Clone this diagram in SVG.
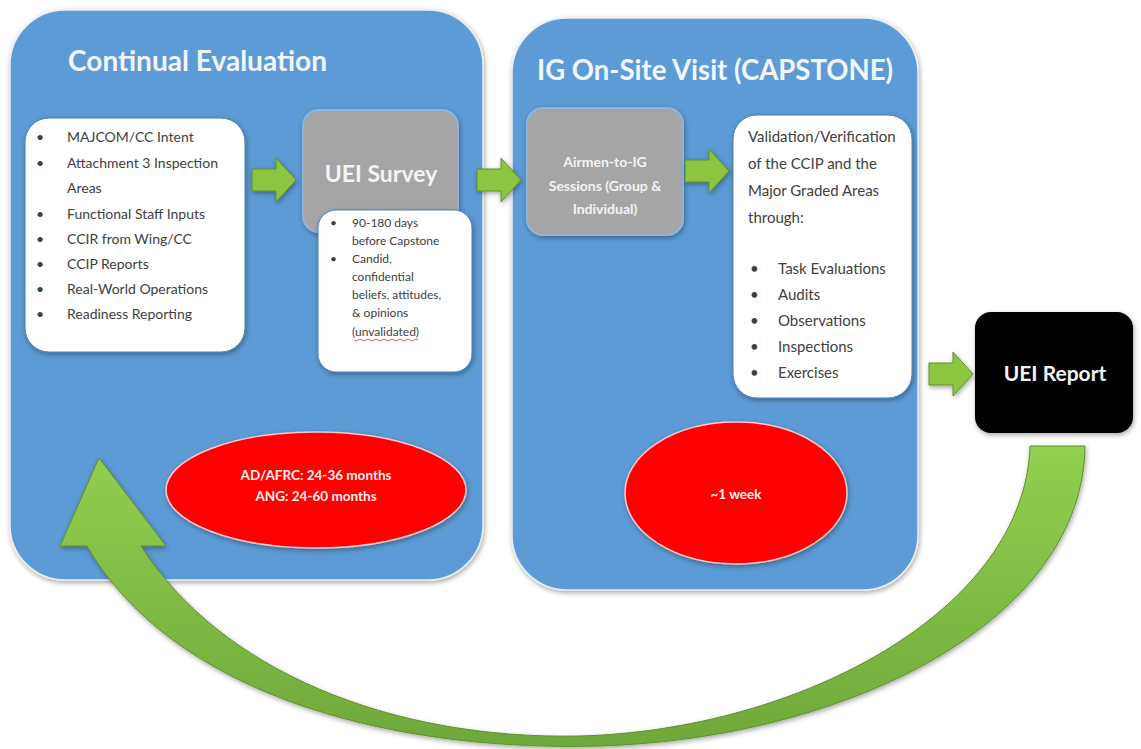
<svg xmlns="http://www.w3.org/2000/svg" width="1141" height="749" viewBox="0 0 1141 749">
<defs>
<filter id="sh" x="-10%" y="-10%" width="120%" height="120%">
<feGaussianBlur in="SourceAlpha" stdDeviation="2.5"/>
<feOffset dx="1" dy="2" result="b"/>
<feFlood flood-color="#000" flood-opacity="0.35"/>
<feComposite in2="b" operator="in"/>
<feMerge><feMergeNode/><feMergeNode in="SourceGraphic"/></feMerge>
</filter>
<linearGradient id="gr" x1="0" y1="0" x2="0" y2="1">
<stop offset="0" stop-color="#92d050"/>
<stop offset="1" stop-color="#6fa83a"/>
</linearGradient>
<path id="ar" d="M0 -11 H24 V-22 L44 0 L24 22 V11 H0 Z"/>
</defs>
<style>
.panel{fill:#5b9bd5;stroke:#e8eef6;stroke-width:1.5}
.white{fill:#ffffff;stroke:#4a7fb5;stroke-width:1}
.gray{fill:#a5a5a5;stroke:#8fb4dc;stroke-width:2}
.title{font-family:Lato,"Open Sans",sans-serif;font-weight:bold;font-size:29px;fill:#f2f7fb}
.lst{font-family:Lato,"Open Sans",sans-serif;font-size:14px;fill:#404040}
.val{font-family:Lato,"Open Sans",sans-serif;font-size:15px;fill:#404040}
.sm{font-family:Lato,"Open Sans",sans-serif;font-size:12px;fill:#404040}
.gt{font-family:Lato,"Open Sans",sans-serif;font-weight:bold;fill:#f4f4f4;text-anchor:middle}
.red{fill:#ff0000;stroke:#f6c9c9;stroke-width:1.5}
.rt{font-family:Lato,"Open Sans",sans-serif;font-weight:bold;font-size:13.5px;fill:#fff0f0;text-anchor:middle}
.garrow{fill:#8cc63f;stroke:#5f8f2c;stroke-width:1}
</style>

<g id="continual-evaluation">
<rect class="panel" x="10" y="10" width="473" height="570" rx="55" filter="url(#sh)"/>
<text class="title" x="68" y="71" textLength="259" lengthAdjust="spacingAndGlyphs">Continual Evaluation</text>
</g>

<g id="inputs-list">
<rect class="white" x="25" y="118" width="220" height="234" rx="24" filter="url(#sh)"/>
<g class="lst">
<text x="36" y="142">•</text><text x="67" y="142">MAJCOM/CC Intent</text>
<text x="36" y="168">•</text><text x="67" y="168">Attachment 3 Inspection</text>
<text x="67" y="193">Areas</text>
<text x="36" y="219">•</text><text x="67" y="219">Functional Staff Inputs</text>
<text x="36" y="244">•</text><text x="67" y="244">CCIR from Wing/CC</text>
<text x="36" y="269">•</text><text x="67" y="269">CCIP Reports</text>
<text x="36" y="294">•</text><text x="67" y="294">Real-World Operations</text>
<text x="36" y="319">•</text><text x="67" y="319">Readiness Reporting</text>
</g>
</g>

<g id="uei-survey">
<rect class="gray" x="303" y="110" width="155" height="122" rx="16" filter="url(#sh)"/>
<text class="gt" x="381" y="182" font-size="23">UEI Survey</text>
</g>

<g id="survey-notes">
<rect class="white" x="318" y="210" width="154" height="162" rx="18" filter="url(#sh)"/>
<g class="sm">
<text x="330" y="227">•</text><text x="352" y="227">90-180 days</text>
<text x="352" y="245">before Capstone</text>
<text x="330" y="263">•</text><text x="352" y="263">Candid,</text>
<text x="352" y="281">confidential</text>
<text x="352" y="299">beliefs, attitudes,</text>
<text x="352" y="317">&amp; opinions</text>
<text x="352" y="336">(unvalidated)</text>
</g>
<path d="M354 340 q2 2 4 0 t4 0 t4 0 t4 0 t4 0 t4 0 t4 0 t4 0 t4 0 t4 0 t4 0 t4 0 t4 0 t4 0 t4 0 t4 0" fill="none" stroke="#e03030" stroke-width="0.8"/>
</g>

<g id="ig-onsite-visit">
<rect class="panel" x="512" y="18" width="406" height="572" rx="55" filter="url(#sh)"/>
<text class="title" x="537" y="80" textLength="356" lengthAdjust="spacingAndGlyphs">IG On-Site Visit (CAPSTONE)</text>
</g>

<g id="airmen-sessions">
<rect class="gray" x="527" y="108" width="156" height="127" rx="16" filter="url(#sh)"/>
<g class="gt" font-size="14">
<text x="605" y="167">Airmen-to-IG</text>
<text x="605" y="191">Sessions (Group &amp;</text>
<text x="605" y="214">Individual)</text>
</g>
</g>

<g id="validation">
<rect class="white" x="733" y="115" width="179" height="283" rx="24" filter="url(#sh)"/>
<g class="val">
<text x="748" y="142">Validation/Verification</text>
<text x="748" y="169">of the CCIP and the</text>
<text x="748" y="196">Major Graded Areas</text>
<text x="748" y="223">through:</text>
<text x="750" y="274">•</text><text x="778" y="274">Task Evaluations</text>
<text x="750" y="300">•</text><text x="778" y="300">Audits</text>
<text x="750" y="326">•</text><text x="778" y="326">Observations</text>
<text x="750" y="352">•</text><text x="778" y="352">Inspections</text>
<text x="750" y="378">•</text><text x="778" y="378">Exercises</text>
</g>
</g>

<g id="uei-report">
<rect x="975" y="312" width="158" height="121" rx="16" fill="#000" filter="url(#sh)"/>
<text class="gt" x="1055" y="381" font-size="21">UEI Report</text>
</g>

<g id="timeline-ce">
<ellipse class="red" cx="316" cy="490" rx="150" ry="58" filter="url(#sh)"/>
<text class="rt" x="316" y="480">AD/AFRC: 24-36 months</text>
<text class="rt" x="316" y="501">ANG: 24-60 months</text>
</g>

<g id="timeline-ig">
<ellipse class="red" cx="736" cy="493" rx="111" ry="71" filter="url(#sh)"/>
<text class="rt" x="736" y="499" font-size="15">~1 week</text>
</g>

<g id="connectors">
<use href="#ar" class="garrow" x="252" y="180" filter="url(#sh)"/>
<use href="#ar" class="garrow" x="477" y="180" filter="url(#sh)"/>
<use href="#ar" class="garrow" x="685" y="171" filter="url(#sh)"/>
<use href="#ar" class="garrow" x="929" y="374" filter="url(#sh)"/>
<path d="M1030 446 H1085 C1083 620 850 738 600 746 C 380 752 170 690 87 546 H60 L99 458 L166 546 H141 C 220 670 390 740 580 736 C 800 730 1025 610 1030 446 Z" fill="url(#gr)" stroke="#5f8f2c" stroke-width="1" filter="url(#sh)"/>
</g>
</svg>
